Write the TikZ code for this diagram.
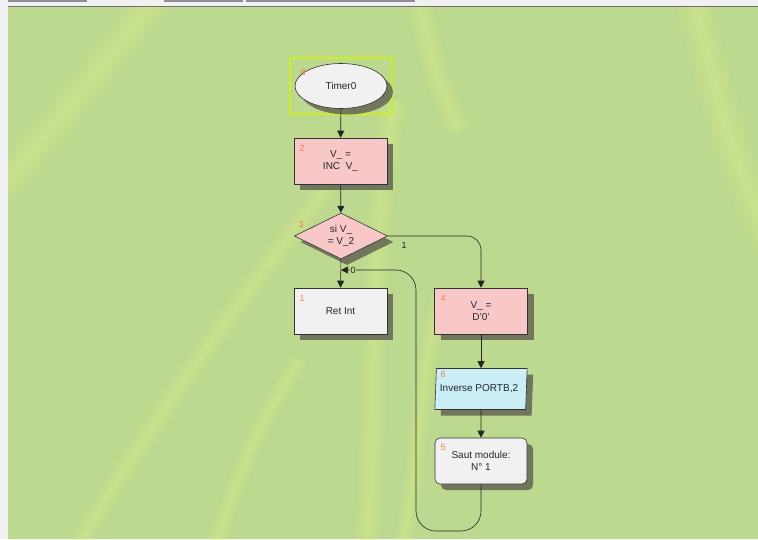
\documentclass[tikz,border=0pt]{standalone}
\usepackage{fontspec}
\setmainfont{Liberation Sans}
\usetikzlibrary{shapes.geometric,shadows,arrows.meta}
\definecolor{bg}{HTML}{BDD98F}
\definecolor{streak}{HTML}{D8EE8C}
\definecolor{pinkbox}{HTML}{F8C8C8}
\definecolor{greybox}{HTML}{F1F1F1}
\definecolor{cyanbox}{HTML}{C9EEF6}
\definecolor{shadowc}{HTML}{5E5E50}
\definecolor{idx}{HTML}{E8864A}
\definecolor{selc}{HTML}{CCEE22}
\definecolor{barc}{HTML}{8E8E96}
\begin{document}
\begin{tikzpicture}[x=1pt,y=-1pt,
  font=\fontsize{10}{12}\selectfont,
  shd/.style={drop shadow={shadow xshift=6pt,shadow yshift=-6pt,fill=shadowc,opacity=0.8}},
  blk/.style={draw=black!80,line width=0.6pt,minimum width=93pt,minimum height=46pt,
    inner sep=1pt,align=center,text=black!85,shd},
  pinkblk/.style={blk,fill=pinkbox},
  greyblk/.style={blk,fill=greybox},
  idxlabel/.style={text=idx,font=\fontsize{9}{10}\selectfont,inner sep=0pt},
  conn/.style={draw=black!85,line width=0.6pt,-{Triangle[length=7pt,width=7pt]}},
  edgelabel/.style={font=\fontsize{9}{10}\selectfont,inner sep=0.5pt,text=black!85},
  soft/.style={draw=streak,opacity=0.14}]
\useasboundingbox (0,0) rectangle (758,539);
% background
\fill[bg] (0,0) rectangle (758,539);
\foreach \w in {36,26,16,8}{
  \draw[soft,line width=\w pt] (-20,215) .. controls (50,130) and (100,70) .. (170,-20);
  \draw[soft,line width=0.6*\w pt] (70,560) .. controls (150,420) and (240,300) .. (340,170);
  \draw[soft,line width=0.7*\w pt] (365,560) .. controls (380,420) and (365,250) .. (395,100);
  \draw[soft,line width=0.5*\w pt] (400,560) .. controls (425,430) and (420,360) .. (440,300);
  \draw[soft,line width=\w pt] (690,-20) .. controls (720,120) and (740,180) .. (780,260);
  \draw[soft,line width=0.7*\w pt] (415,-20) .. controls (430,60) and (440,90) .. (460,130);
  \draw[soft,line width=0.5*\w pt] (210,560) .. controls (240,470) and (260,420) .. (300,360);
}
% window frame
\fill[greybox] (0,0) rectangle (8,539);
\fill[greybox] (0,0) rectangle (758,6);
\fill[barc] (8,0) rectangle (87,2);
\fill[barc] (164,0) rectangle (243,2);
\fill[barc] (246,0) rectangle (415,2);
\draw[barc!80!black,line width=1pt] (8,6.5) -- (758,6.5);
% selection square
\draw[selc,line width=1.6pt] (290,58) rectangle (392,114);
% nodes
\node[ellipse,draw=black!80,line width=0.6pt,fill=greybox,minimum width=92pt,minimum height=45pt,
  text=black!85,shd] (timer) at (341,86) {Timer0};
\node[pinkblk] (b2) at (340.5,161) {V\_ =\\INC\ \ V\_};
\node[diamond,aspect=2,draw=black!80,line width=0.6pt,fill=pinkbox,minimum width=93pt,
  minimum height=46pt,inner sep=0pt,align=center,text=black!85,shd] (d3) at (341,236) {si V\_\\= V\_2};
\node[greyblk] (b1) at (340.5,311) {Ret Int};
\node[pinkblk] (b4) at (481,311) {V\_ =\\D'0'};
\node[trapezium,trapezium left angle=83,trapezium right angle=97,trapezium stretches=true,
  draw=black!80,line width=0.6pt,fill=cyanbox,minimum width=93pt,minimum height=41pt,
  inner sep=1pt,text=black!85,shd] (p6) at (481,389) {\hspace*{-6pt}Inverse PORTB,2\hspace*{-2pt}};
\node[greyblk,rounded corners=5pt,minimum width=92pt] (b5) at (481,461) {Saut module:\\N° 1};
% index labels
\node[idxlabel] (i8) at (303,72) {8};
\node[idxlabel] (i2) at (302,148) {2};
\node[idxlabel] (i3) at (301,224) {3};
\node[idxlabel] (i1) at (302,298) {1};
\node[idxlabel] (i4) at (443,298) {4};
\node[idxlabel] (i6) at (443,374) {6};
\node[idxlabel] (i5) at (443,447) {5};
% connectors
\coordinate (j) at (341,270);
\coordinate (lb) at (416,531);
\draw[conn] (timer) -- (b2);
\draw[conn] (b2) -- (d3);
\draw[conn] (d3.south) -- (b1.north);
\draw[conn,rounded corners=14pt] (d3.east) -| (b4.north);
\draw[conn] (b4) -- (p6);
\draw[conn] (p6) -- (b5);
\draw[conn,rounded corners=20pt] (b5.south) |- (lb) |- (j);
\node[edgelabel,fill=bg] (l0) at (353,270) {0};
\node[edgelabel] (l1) at (404,245) {1};
\end{tikzpicture}
\end{document}
